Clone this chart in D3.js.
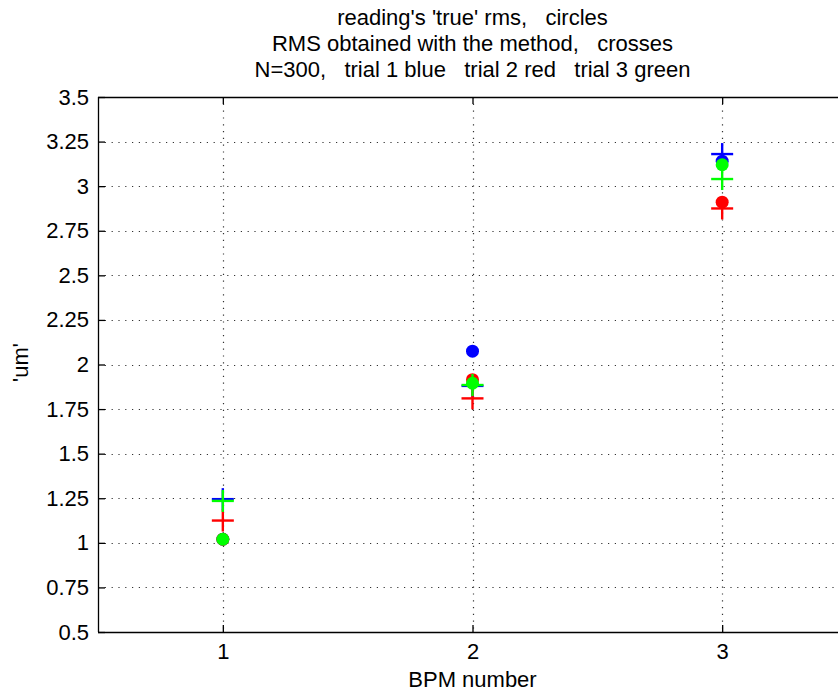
<!DOCTYPE html>
<html><head><meta charset="utf-8">
<script src="https://cdn.jsdelivr.net/npm/d3@7"></script>
<style>html,body{margin:0;padding:0;background:#fff;overflow:hidden}svg{display:block}text{font-family:"Liberation Sans",Arial,sans-serif;fill:#000;white-space:pre}</style>
</head><body><svg id="c" width="838" height="692"></svg>
<script>
const bpm = [1, 2, 3];
const trialNames = ["trial 1", "trial 2", "trial 3"];
const trialColors = ["#0000ff", "#ff0000", "#00ff00"];
// 'true' rms (circles)
const trueRms1 = [1.02, 2.075, 3.14];
const trueRms2 = [1.02, 1.915, 2.91];
const trueRms3 = [1.02, 1.895, 3.12];
// RMS obtained with the method (crosses)
const method1 = [1.245, 1.88, 3.18];
const method2 = [1.125, 1.81, 2.875];
const method3 = [1.235, 1.885, 3.04];
const xTicks = [1, 2, 3];
const yTicks = [0.5, 0.75, 1, 1.25, 1.5, 1.75, 2, 2.25, 2.5, 2.75, 3, 3.25, 3.5];
const titleLines = ["reading's 'true' rms,   circles", "RMS obtained with the method,   crosses", "N=300,   trial 1 blue   trial 2 red   trial 3 green"];

const FS = 22;
const svg = d3.select("#c");
const L = 98, T = 97, R = 847, B = 632;
const x = d3.scaleLinear().domain([0.5, 3.5]).range([L, R]);
const y = d3.scaleLinear().domain([0.5, 3.5]).range([B, T]);

svg.append("rect").attr("width", 838).attr("height", 692).attr("fill", "#fff");

// grid
const g = svg.append("g").attr("stroke", "#333").attr("stroke-width", 1.2).attr("stroke-dasharray", "1.2,5.6");
g.selectAll("line.gy").data(yTicks.filter(d => d > 0.5 && d < 3.5)).join("line").attr("class", "gy")
  .attr("x1", L).attr("x2", 838).attr("y1", d => Math.round(y(d)) + 0.5).attr("y2", d => Math.round(y(d)) + 0.5);
g.selectAll("line.gx").data(xTicks).join("line").attr("class", "gx")
  .attr("y1", T).attr("y2", B).attr("x1", d => Math.round(x(d)) + 0.5).attr("x2", d => Math.round(x(d)) + 0.5);

// axes
const fmt = d => String(d);
const yAxis = d3.axisLeft(y).tickValues(yTicks).tickFormat(fmt).tickSizeInner(-7).tickSizeOuter(0).tickPadding(9);
const ya = svg.append("g").attr("transform", `translate(${L},0)`).call(yAxis);
const xAxis = d3.axisBottom(x).tickValues(xTicks).tickFormat(fmt).tickSizeInner(-7).tickSizeOuter(0).tickPadding(11);
const xa = svg.append("g").attr("transform", `translate(0,${B})`).call(xAxis);
const xTop = d3.axisTop(x).tickValues(xTicks).tickFormat("").tickSizeInner(-7).tickSizeOuter(0);
const xt = svg.append("g").attr("transform", `translate(0,${T})`).call(xTop);
[ya, xa, xt].forEach(a => {
  a.select(".domain").remove();
  a.selectAll("line").attr("stroke", "#000").attr("stroke-width", 1.3);
  a.selectAll("text").attr("font-size", FS).attr("font-family", "Liberation Sans, Arial, sans-serif").attr("fill", "#000");
});
const frame = svg.append("g").attr("stroke", "#000").attr("stroke-width", 1.3);
frame.append("line").attr("x1", x(0.5) + 0.5).attr("x2", x(0.5) + 0.5).attr("y1", y(3.5)).attr("y2", y(0.5));
frame.append("line").attr("x1", x(0.5)).attr("x2", 838).attr("y1", y(0.5) + 0.5).attr("y2", y(0.5) + 0.5);
frame.append("line").attr("x1", x(0.5)).attr("x2", 838).attr("y1", y(3.5) + 0.5).attr("y2", y(3.5) + 0.5);

// marks, trial by trial
const trues = [trueRms1, trueRms2, trueRms3];
const meths = [method1, method2, method3];
const arm = 11;
trialNames.forEach((t, i) => {
  const col = trialColors[i];
  const tg = svg.append("g");
  tg.selectAll("circle").data(bpm.map((b, k) => [b, trues[i][k]])).join("circle")
    .attr("cx", d => x(d[0])).attr("cy", d => y(d[1])).attr("r", 6.5).attr("fill", col);
  const cr = tg.selectAll("g.cr").data(bpm.map((b, k) => [b, meths[i][k]])).join("g").attr("class", "cr")
    .attr("transform", d => `translate(${x(d[0])},${y(d[1])})`).attr("stroke", col).attr("stroke-width", 2.4);
  cr.append("line").attr("x1", -arm).attr("x2", arm);
  cr.append("line").attr("y1", -arm).attr("y2", arm);
});

// title
svg.append("g").selectAll("text").data(titleLines).join("text")
  .attr("x", (L + R) / 2).attr("y", (d, i) => 25 + i * 26).attr("text-anchor", "middle")
  .attr("font-size", FS).text(d => d);

svg.append("text").attr("x", (L + R) / 2).attr("y", 687).attr("text-anchor", "middle").attr("font-size", FS).text("BPM number");
svg.append("text").attr("transform", `translate(28,${(T + B) / 2 - 2}) rotate(-90)`).attr("text-anchor", "middle").attr("font-size", FS).text("'um'");
</script></body></html>
